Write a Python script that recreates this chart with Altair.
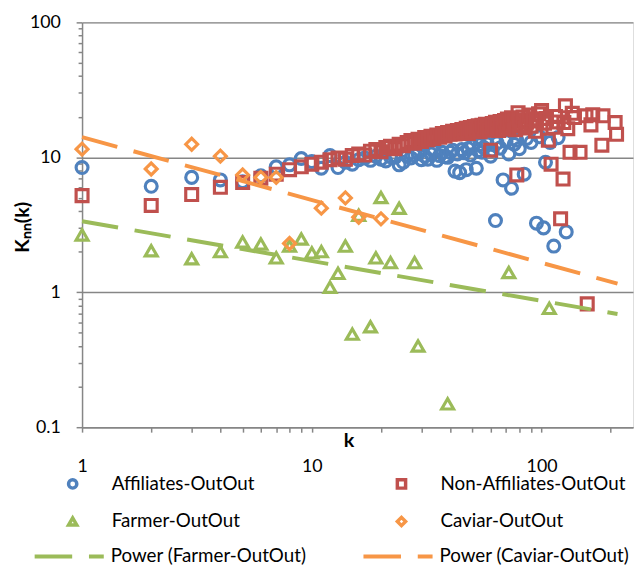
import altair as alt
import pandas as pd

# ---------------- data ----------------
aff_k = [1, 2, 3, 4, 5, 6, 7, 8, 9, 10, 11, 12, 13, 14, 15, 16, 17, 18, 19, 20,
         21, 22, 23, 24, 25, 26, 27, 28, 29, 30, 31, 32, 33, 34, 35, 36, 37, 38, 39, 40,
         41, 42, 43, 44, 45, 46, 47, 48, 49, 50, 52, 53, 54, 55, 56, 58, 60, 61, 63, 64,
         66, 68, 70, 72, 74, 76, 78, 80, 84, 86, 90, 95, 98, 102, 104, 109, 113, 118, 128]
aff_v = [8.4, 6.1, 7.1, 6.8, 6.6, 7.3, 8.5, 8.8, 9.8, 9.3, 8.3, 10.3, 8.4, 9.2, 8.9, 9.6, 9.9, 9.5, 10.2, 9.7,
         9.4, 10.1, 10.0, 8.8, 9.2, 10.3, 9.9, 10.4, 10.8, 9.6, 10.2, 9.7, 10.6, 11.0, 9.5, 10.3, 10.9, 10.1, 10.0, 10.9,
         11.3, 7.9, 10.6, 7.7, 11.4, 10.8, 8.1, 11.6, 10.4, 12.1, 8.3, 11.2, 12.4, 10.9, 11.8, 12.6, 10.2, 11.3, 3.4, 12.8,
         11.7, 6.8, 13.1, 10.6, 5.9, 12.5, 13.4, 11.6, 7.5, 13.8, 12.9, 3.25, 14.2, 3.0, 9.2, 12.9, 2.2, 14.0, 2.8]

non_k = [1, 2, 3, 4, 5, 6, 7, 8, 9, 10, 11, 12, 13, 14, 15, 16, 17, 18, 19, 20,
         21, 22, 23, 24, 25, 26, 27, 28, 29, 30, 31, 32, 33, 34, 35, 36, 37, 38, 39, 40,
         41, 42, 43, 44, 45, 46, 47, 48, 49, 50, 51, 52, 53, 54, 55, 56, 57, 58, 59, 60,
         61, 62, 63, 64, 65, 66, 67, 68, 69, 70, 71, 72, 73, 74, 75, 76, 77, 78, 79, 80,
         82, 83, 85, 86, 88, 90, 92, 94, 95, 97, 100, 103, 105, 107, 110, 112, 115, 118, 121, 124,
         125, 127, 130, 133, 136, 139, 147, 156, 158, 164, 167, 183, 185, 209, 212]
non_v = [5.2, 4.4, 5.3, 6.0, 6.5, 7.0, 7.5, 8.1, 8.5, 8.9, 9.2, 9.6, 9.9, 9.7, 10.3, 10.6, 10.4, 11.1, 11.4, 11.0,
         11.8, 12.1, 11.6, 12.5, 12.2, 12.9, 13.3, 12.7, 13.6, 13.1, 14.0, 13.5, 14.3, 13.8, 14.6, 14.1, 15.0, 14.4, 15.3, 14.8,
         15.6, 14.9, 15.8, 15.2, 16.1, 15.4, 16.4, 15.0, 16.6, 15.7, 16.9, 16.0, 17.1, 15.5, 17.3, 16.3, 17.6, 16.6, 15.9, 11.3,
         17.8, 16.8, 18.2, 17.0, 15.8, 18.4, 17.3, 16.2, 18.7, 17.5, 19.2, 16.6, 18.0, 19.6, 17.1, 18.6, 16.0, 7.4, 21.4, 18.9,
         17.4, 19.9, 16.5, 18.2, 20.6, 17.0, 19.3, 15.6, 18.6, 21.0, 22.2, 17.9, 19.4, 13.4, 8.9, 16.7, 20.1, 18.3, 3.5, 6.9,
         18.1, 24.1, 16.3, 10.9, 21.2, 19.7, 10.9, 20.3, 0.82, 17.4, 20.7, 12.3, 20.3, 18.1, 14.8]

farmer_k = [1, 2, 3, 4, 5, 6, 7, 8, 9, 10, 11, 12, 13, 14, 15, 16, 18, 19, 20, 22, 24, 28, 29, 39, 72, 108]
farmer_v = [2.66, 2.03, 1.77, 2.0, 2.36, 2.28, 1.8, 2.2, 2.48, 1.96, 2.0, 1.09, 1.38, 2.2, 0.49, 3.72, 0.555,
            1.8, 5.04, 1.66, 4.19, 1.66, 0.40, 0.149, 1.4, 0.76]

caviar_k = [1, 2, 3, 4, 5, 6, 7, 8, 11, 14, 16, 20]
caviar_v = [11.5, 8.2, 12.5, 10.2, 7.4, 7.1, 7.1, 2.3, 4.2, 5.0, 3.6, 3.5]

# power trend lines (straight in log-log: two end points)
fit_farmer_k = [1, 214]
fit_farmer_v = [3.36, 0.69]
fit_caviar_k = [1, 214]
fit_caviar_v = [14.1, 1.16]

series_names = ["Affiliates-OutOut", "Non-Affiliates-OutOut", "Farmer-OutOut", "Caviar-OutOut"]
series_colors = ["#4F81BD", "#C0504D", "#9BBB59", "#F79646"]
series_shapes = ["circle", "square", "triangle-up", "diamond"]
fit_names = ["Power (Farmer-OutOut)", "Power (Caviar-OutOut)"]
fit_colors = ["#9BBB59", "#F79646"]

x_ticks = [1, 2, 3, 4, 5, 6, 7, 8, 9, 10, 20, 30, 40, 50, 60, 70, 80, 90, 100, 200]
y_ticks = [0.1, 0.2, 0.3, 0.4, 0.5, 0.6, 0.7, 0.8, 0.9, 1, 2, 3, 4, 5, 6, 7, 8, 9,
           10, 20, 30, 40, 50, 60, 70, 80, 90, 100]

# ---------------- tables ----------------
def make_pts(idx):
    rows = []
    all_k = [aff_k, non_k, farmer_k, caviar_k]
    all_v = [aff_v, non_v, farmer_v, caviar_v]
    for i in idx:
        for k, v in zip(all_k[i], all_v[i]):
            rows.append({"series": series_names[i], "k": k, "knn": v})
    return pd.DataFrame(rows)

fit_k = [fit_farmer_k, fit_caviar_k]
fit_v = [fit_farmer_v, fit_caviar_v]

def make_fit(i):
    return pd.DataFrame({"fit": [fit_names[i]] * len(fit_k[i]), "k": fit_k[i], "knn": fit_v[i]})

FONT = "Lato"
GRAY = "#868686"

x_major = "datum.value == 1 || datum.value == 10 || datum.value == 100"
y_major = "datum.value == 0.1 || datum.value == 1 || datum.value == 10 || datum.value == 100"

x_scale = alt.Scale(type="log", domain=[1, 250], nice=False)
y_scale = alt.Scale(type="log", domain=[0.1, 100], nice=False)

x_axis = alt.Axis(
    values=x_ticks, title="k", grid=False,
    labelExpr="(" + x_major + ") ? datum.value + '' : ''",
    labelFont=FONT, labelFontSize=18, labelColor="#000000", labelPadding=26,
    labelFlush=False, labelOverlap=False,
    tickColor=GRAY, tickWidth=1.5, tickSize=5,
    domainColor=GRAY, domainWidth=1.5,
    titleFont=FONT, titleFontSize=20, titleFontWeight="bold", titleColor="#000000",
    titleX=270, titleY=14, titleBaseline="middle", titleAlign="center",
)
y_axis = alt.Axis(
    values=y_ticks, title="Kₙₙ(k)",
    labelExpr="(" + y_major + ") ? datum.value + '' : ''",
    labelFont=FONT, labelFontSize=18, labelColor="#000000", labelPadding=16,
    labelFlush=False, labelOverlap=False, labelBaseline="middle",
    tickColor=GRAY, tickWidth=1.5,
    tickSize={"condition": {"test": y_major, "value": 6}, "value": 4},
    grid=True, gridColor=GRAY, gridWidth=1.5,
    gridOpacity={"condition": {"test": y_major, "value": 1}, "value": 0},
    domainColor=GRAY, domainWidth=1.5,
    titleFont=FONT, titleFontSize=20, titleFontWeight="bold", titleColor="#000000",
    titleX=-60, titleY=207, titleAngle=270, titleAlign="center", titleBaseline="middle",
)

COL2 = 333  # horizontal distance between the two legend columns


def pt_legend(x):
    return alt.Legend(
        title=None, orient="none", legendX=x, legendY=458, direction="vertical",
        rowPadding=15, padding=0, offset=0,
        symbolSize=70, symbolStrokeWidth=3.5, labelOffset=30,
        labelFont=FONT, labelFontSize=19, labelColor="#000000", labelLimit=400,
    )


def line_legend(x):
    return alt.Legend(
        title=None, orient="none", legendX=x, legendY=504, direction="vertical",
        padding=0, offset=0,
        symbolType="stroke", symbolSize=4900, symbolStrokeWidth=4, symbolDash=[38, 17],
        labelOffset=5, labelFont=FONT, labelFontSize=19, labelColor="#000000", labelLimit=400,
    )


def point_layer(idx, legend_x):
    names = [series_names[i] for i in idx]
    leg = pt_legend(legend_x)
    return alt.Chart(make_pts(idx)).mark_point(
        filled=False, strokeWidth=3.2, size=145, opacity=1
    ).encode(
        x=alt.X("k:Q", scale=x_scale, axis=x_axis),
        y=alt.Y("knn:Q", scale=y_scale, axis=y_axis),
        color=alt.Color("series:N", scale=alt.Scale(
            domain=names, range=[series_colors[i] for i in idx]), legend=leg),
        shape=alt.Shape("series:N", scale=alt.Scale(
            domain=names, range=[series_shapes[i] for i in idx]), legend=leg),
    )


def fit_layer(i, legend_x):
    return alt.Chart(make_fit(i)).mark_line(strokeWidth=4, strokeDash=[37, 17]).encode(
        x=alt.X("k:Q", scale=x_scale, axis=x_axis),
        y=alt.Y("knn:Q", scale=y_scale, axis=y_axis),
        stroke=alt.Stroke("fit:N", scale=alt.Scale(domain=[fit_names[i]], range=[fit_colors[i]]),
                          legend=line_legend(legend_x)),
    )


left_pts = point_layer([0, 2], -19)          # Affiliates, Farmer
right_pts = point_layer([1, 3], -19 + COL2)  # Non-Affiliates, Caviar
fit_left = fit_layer(0, -50)
fit_right = fit_layer(1, -50 + COL2)

chart = alt.layer(left_pts, right_pts, fit_left, fit_right).resolve_scale(
    color="independent", shape="independent", stroke="independent"
).properties(
    width=558, height=410,
    padding={"left": 75, "top": 11, "right": 1, "bottom": 137},
    autosize=alt.AutoSizeParams(type="none"),
).configure_view(strokeWidth=0).configure(font=FONT)

chart.save("out.html", embed_options={"renderer": "svg", "actions": False})
